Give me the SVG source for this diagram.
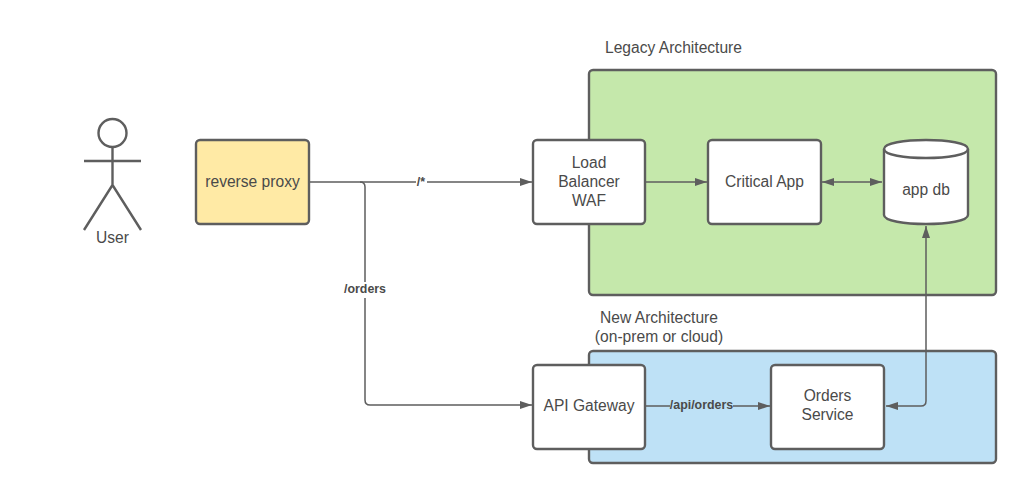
<svg xmlns="http://www.w3.org/2000/svg" width="1024" height="491" viewBox="0 0 1024 491">
<style>
text{font-family:"Liberation Sans",Arial,sans-serif;font-size:15.600px;fill:#4a4a4a;text-anchor:middle}
.b{font-size:12.400px;font-weight:bold}
.n{stroke:#5e5e5e;stroke-width:2.400;fill:#fff}
.c{stroke:#5e5e5e;stroke-width:1.500;fill:none}
.a{fill:#5e5e5e;stroke:none}
</style>
<defs>
<marker id="e" markerUnits="userSpaceOnUse" markerWidth="13" markerHeight="8" refX="12" refY="4" orient="auto-start-reverse"><path class="a" d="M0 0L12 4L0 8Z"/></marker>
</defs>
<rect width="1024" height="491" fill="#fff"/>
<g id="legacy"><rect x="589" y="70" width="407" height="225" rx="4" class="n" style="fill:#c5e8ab"/><text x="673.500" y="53">Legacy Architecture</text></g>
<g id="new"><rect x="589" y="351" width="407" height="112" rx="4" class="n" style="fill:#bee1f6"/><text x="659" y="323">New Architecture</text><text x="659" y="342">(on-prem or cloud)</text></g>
<g id="connectors">
<path class="c" d="M310 182H416M427 182H532" marker-end="url(#e)"/>
<path class="c" d="M360 182Q365 182 365 187V282M365 298V400Q365 405 370 405H532" marker-end="url(#e)"/>
<path class="c" d="M646 182H707" marker-end="url(#e)"/>
<path class="c" d="M822 182H882" marker-start="url(#e)" marker-end="url(#e)"/>
<path class="c" d="M646 406H670M733 406H770" marker-end="url(#e)"/>
<path class="c" d="M886 406H921Q926 406 926 401V226" marker-start="url(#e)" marker-end="url(#e)"/>
<text class="b" x="421" y="186">/*</text>
<text class="b" x="365" y="293">/orders</text>
<text class="b" x="701.500" y="409">/api/orders</text>
</g>
<g id="user" class="c" style="stroke-width:2.400"><circle cx="112.500" cy="133" r="14"/><path d="M112.500 147V185M84 161H141M112.500 185L84 230M112.500 185L141 230"/></g>
<text x="112.500" y="243">User</text>
<g id="proxy"><rect x="196" y="140" width="113" height="84" rx="4" class="n" style="fill:#ffeaa5"/><text x="252.500" y="187">reverse proxy</text></g>
<g id="lb"><rect x="533" y="140" width="112" height="84" rx="4" class="n"/><text x="589" y="168">Load</text><text x="589" y="187">Balancer</text><text x="589" y="206">WAF</text></g>
<g id="app"><rect x="708" y="140" width="113" height="84" rx="4" class="n"/><text x="764.500" y="187">Critical App</text></g>
<g id="db"><path class="n" d="M884 149C884 137 968 137 968 149V215C968 227 884 227 884 215Z"/><path class="c" style="stroke-width:2.400" d="M884 149C884 161 968 161 968 149"/><text x="926" y="195">app db</text></g>
<g id="gateway"><rect x="533" y="365" width="112" height="84" rx="4" class="n"/><text x="589" y="411">API Gateway</text></g>
<g id="orders"><rect x="771" y="365" width="113" height="84" rx="4" class="n"/><text x="827.500" y="401">Orders</text><text x="827.500" y="420">Service</text></g>
</svg>
